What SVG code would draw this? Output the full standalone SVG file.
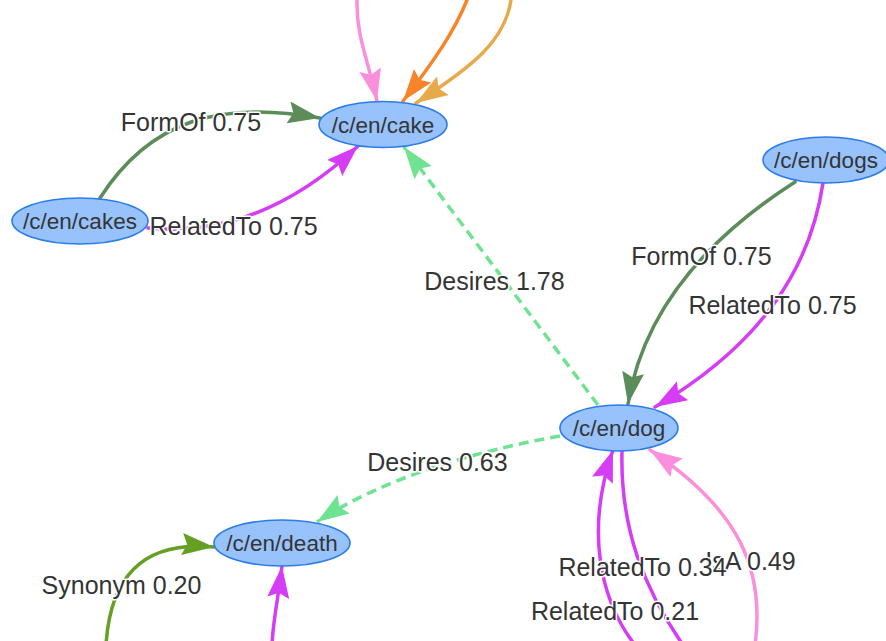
<svg xmlns="http://www.w3.org/2000/svg" width="886" height="641" viewBox="0 0 886 641">
<style>
.e{fill:none;stroke-width:3.5;stroke-linecap:round}
.d{stroke-dasharray:10 6;stroke-linecap:butt}
.n ellipse{fill:#97c2fc;stroke:#2b7ce9;stroke-width:1.6}
.n text{font-family:"Liberation Sans",Arial,sans-serif;font-size:22.5px;fill:#343434;text-anchor:middle}
.l{font-family:"Liberation Sans",Arial,sans-serif;font-size:25px;fill:#343434;text-anchor:middle;stroke:#fff;stroke-width:3;paint-order:stroke;stroke-linejoin:round}
</style>
<defs>
<marker id="aG" markerUnits="userSpaceOnUse" markerWidth="34" markerHeight="24" refX="32" refY="11" orient="auto"><path d="M0,0 L32,11 L0,22 L5,11 z" fill="#5b8c5a"/></marker>
<marker id="aM" markerUnits="userSpaceOnUse" markerWidth="34" markerHeight="24" refX="32" refY="11" orient="auto"><path d="M0,0 L32,11 L0,22 L5,11 z" fill="#d63cf6"/></marker>
<marker id="aP" markerUnits="userSpaceOnUse" markerWidth="34" markerHeight="24" refX="32" refY="11" orient="auto"><path d="M0,0 L32,11 L0,22 L5,11 z" fill="#fb8fdc"/></marker>
<marker id="aO" markerUnits="userSpaceOnUse" markerWidth="34" markerHeight="24" refX="32" refY="11" orient="auto"><path d="M0,0 L32,11 L0,22 L5,11 z" fill="#f8842a"/></marker>
<marker id="aT" markerUnits="userSpaceOnUse" markerWidth="34" markerHeight="24" refX="32" refY="11" orient="auto"><path d="M0,0 L32,11 L0,22 L5,11 z" fill="#e8a94a"/></marker>
<marker id="aL" markerUnits="userSpaceOnUse" markerWidth="34" markerHeight="24" refX="32" refY="11" orient="auto"><path d="M0,0 L32,11 L0,22 L5,11 z" fill="#6fe391"/></marker>
<marker id="aV" markerUnits="userSpaceOnUse" markerWidth="34" markerHeight="24" refX="32" refY="11" orient="auto"><path d="M0,0 L32,11 L0,22 L5,11 z" fill="#65a024"/></marker>
</defs>
<g id="edges">
<path class="e" stroke="#fb8fdc" marker-end="url(#aP)" d="M357 0 C356 35 368 60 377 101"/>
<path class="e" stroke="#f8842a" marker-end="url(#aO)" d="M467 0 C455 30 435 60 403 101"/>
<path class="e" stroke="#e8a94a" marker-end="url(#aT)" d="M511 0 C505 40 475 65 416 103"/>
<path class="e" stroke="#5b8c5a" marker-end="url(#aG)" d="M100 198 C150 120 220 100 320 118"/>
<path class="e" stroke="#d63cf6" marker-end="url(#aM)" d="M148 228 C220 235 290 210 358 146"/>
<path class="e d" stroke="#6fe391" marker-end="url(#aL)" d="M598 405 L404 147"/>
<path class="e d" stroke="#6fe391" marker-end="url(#aL)" d="M560 436 C470 452 380 480 317 522"/>
<path class="e" stroke="#5b8c5a" marker-end="url(#aG)" d="M795 182 C720 230 645 300 628 404"/>
<path class="e" stroke="#d63cf6" marker-end="url(#aM)" d="M823 183 C810 270 760 345 655 407"/>
<path class="e" stroke="#65a024" marker-end="url(#aV)" d="M106 645 C110 580 140 540 214 547"/>
<path class="e" stroke="#d63cf6" marker-end="url(#aM)" d="M272 645 C273 620 278 600 282 566"/>
<path class="e" stroke="#d63cf6" marker-end="url(#aM)" d="M635 645 C600 600 585 530 613 450"/>
<path class="e" stroke="#d63cf6" d="M622 451 C620 530 645 590 683 645"/>
<path class="e" stroke="#fb8fdc" marker-end="url(#aP)" d="M755 645 C765 570 740 510 650 450"/>
</g>
<g id="labels">
<text class="l" x="191" y="131">FormOf 0.75</text>
<text class="l" x="233.5" y="235">RelatedTo 0.75</text>
<text class="l" x="701.5" y="265">FormOf 0.75</text>
<text class="l" x="772.5" y="314">RelatedTo 0.75</text>
<text class="l" x="494.5" y="290">Desires 1.78</text>
<text class="l" x="437.5" y="471">Desires 0.63</text>
<text class="l" x="121.5" y="594">Synonym 0.20</text>
<text class="l" x="750.5" y="570">IsA 0.49</text>
<text class="l" x="642.5" y="576">RelatedTo 0.34</text>
<text class="l" x="615" y="620">RelatedTo 0.21</text>
</g>
<g id="node-cake" class="n"><ellipse cx="383" cy="124.5" rx="64" ry="23"/><text x="383" y="132.5">/c/en/cake</text></g>
<g id="node-cakes" class="n"><ellipse cx="80" cy="221" rx="68" ry="23"/><text x="80" y="229">/c/en/cakes</text></g>
<g id="node-dogs" class="n"><ellipse cx="826" cy="160" rx="63" ry="23"/><text x="826" y="168">/c/en/dogs</text></g>
<g id="node-dog" class="n"><ellipse cx="619" cy="428" rx="59" ry="23"/><text x="619" y="436">/c/en/dog</text></g>
<g id="node-death" class="n"><ellipse cx="282" cy="543" rx="68" ry="23"/><text x="282" y="551">/c/en/death</text></g>
</svg>
